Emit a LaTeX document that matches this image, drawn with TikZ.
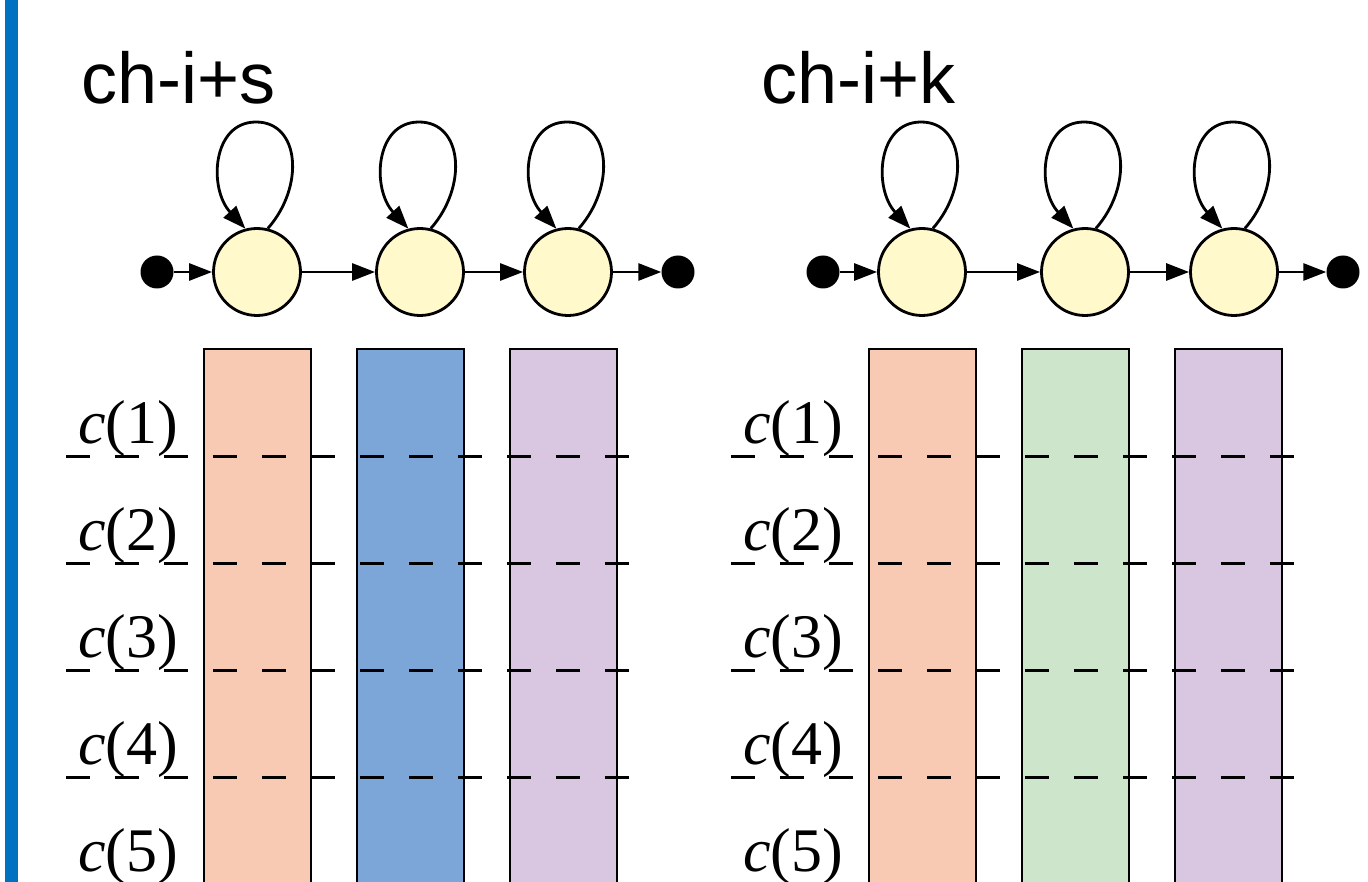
\documentclass[tikz,border=0pt]{standalone}
\usepackage{fontspec}
\setmainfont{Liberation Serif}
\newfontfamily\titlefont{Liberation Sans}
\usetikzlibrary{arrows.meta,calc}
\definecolor{barblue}{HTML}{0070C0}
\definecolor{statefill}{HTML}{FFF9CC}
\definecolor{peach}{HTML}{F9CAB3}
\definecolor{midblue}{HTML}{7DA6D8}
\definecolor{lilac}{HTML}{D9C7E1}
\definecolor{mint}{HTML}{CDE5CB}
\tikzset{
  state/.style={circle, draw, line width=2.8pt, fill=statefill, minimum size=87pt, inner sep=0pt},
  term/.style={circle, fill=black, minimum size=33pt, inner sep=0pt},
  arr/.style={line width=2.8pt, -{Triangle[length=23pt,width=17pt]}},
  colbox/.style={draw, line width=2.8pt},
  gridline/.style={line width=3pt, dash pattern=on 24pt off 25pt},
  lab/.style={font=\fontsize{62}{62}\selectfont, anchor=base, inner sep=0pt},
  ttl/.style={font=\titlefont\fontsize{72}{72}\selectfont, anchor=base west, inner sep=0pt},
}
\newcommand{\selfloop}[1]{%
  \coordinate (#1top) at ($(#1)+(-1,-150)$);
  \draw[line width=2.8pt] (#1.76) .. controls +(37,-42) and +(44,0) .. (#1top);
  \draw[arr] (#1top) .. controls +(-44,0) and +(-37,-40) .. (#1.105);
}
\begin{document}
\begin{tikzpicture}[x=1pt,y=-1pt]
\clip (0,0) rectangle (1368,882);
\fill[white] (0,0) rectangle (1368,882);
% blue bar
\fill[barblue] (5,-5) rectangle (18,890);

% titles
\node[ttl] (t1) at (81,104) {ch-i+s};
\node[ttl] (t2) at (761,104) {ch-i+k};

% columns
\draw[colbox, fill=peach]  (204,349) rectangle (311,895);
\draw[colbox, fill=midblue](357,349) rectangle (464,895);
\draw[colbox, fill=lilac]  (510,349) rectangle (617,895);
\draw[colbox, fill=peach]  (869,349) rectangle (976,895);
\draw[colbox, fill=mint]   (1022,349) rectangle (1129,895);
\draw[colbox, fill=lilac]  (1175,349) rectangle (1282,895);

% dashed lines
\foreach \y in {456,563,670,777}{
  \draw[gridline] (66,\y) -- (629,\y);
  \draw[gridline] (731,\y) -- (1294,\y);
}

% labels
\foreach \k/\y in {1/443,2/550,3/657,4/764,5/871}{
  \node[lab] (la\k) at (128,\y) {\textit{c}(\k)};
  \node[lab] (lb\k) at (793,\y) {\textit{c}(\k)};
}

% left chain
\node[term] (sa) at (157,272) {};
\node[state] (a1) at (257,272) {};
\node[state] (a2) at (420,272) {};
\node[state] (a3) at (568,272) {};
\node[term] (ea) at (678,272) {};
\draw[arr] (sa) -- (a1);
\draw[arr] (a1) -- (a2);
\draw[arr] (a2) -- (a3);
\draw[arr] (a3) -- (ea);
\selfloop{a1}\selfloop{a2}\selfloop{a3}

% right chain
\node[term] (sb) at (823,272) {};
\node[state] (b1) at (922,272) {};
\node[state] (b2) at (1085,272) {};
\node[state] (b3) at (1234,272) {};
\node[term] (eb) at (1343,272) {};
\draw[arr] (sb) -- (b1);
\draw[arr] (b1) -- (b2);
\draw[arr] (b2) -- (b3);
\draw[arr] (b3) -- (eb);
\selfloop{b1}\selfloop{b2}\selfloop{b3}
\end{tikzpicture}
\end{document}
